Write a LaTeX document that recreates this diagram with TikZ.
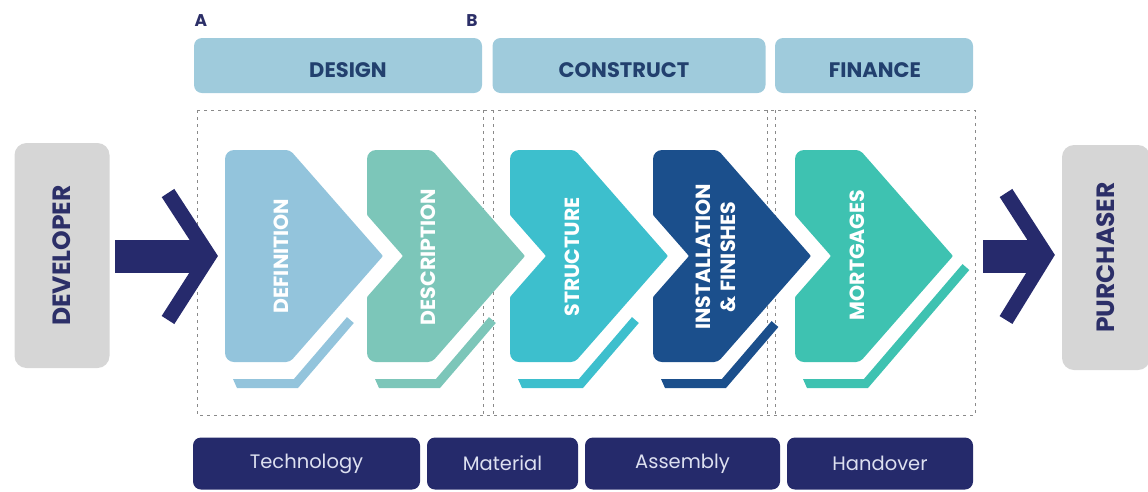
\documentclass[tikz,border=0pt]{standalone}
\usepackage{fontspec}
\setmainfont{Poppins}
\definecolor{hdrc}{HTML}{9FCBDC}
\definecolor{hdrtext}{HTML}{22406E}
\definecolor{navy}{HTML}{252A6B}
\definecolor{bottext}{HTML}{DDE0F0}
\definecolor{arrowc}{HTML}{262A6C}
\definecolor{devc}{HTML}{D6D6D6}
\definecolor{devtext}{HTML}{2C2F68}
\definecolor{cA}{HTML}{93C4DC}
\definecolor{cB}{HTML}{7CC6B9}
\definecolor{cC}{HTML}{3DBFCD}
\definecolor{cD}{HTML}{1B4F8C}
\definecolor{cE}{HTML}{3EC2B1}
\definecolor{dotc}{HTML}{8A8A8A}
% #1 = left x, #2 = colour, #3 = 1 if notched, #4 = y of band end
\newcommand\mychev[4]{%
  \fill[#2] ({#1+8},379) -- ({#1+68.9},379) -- ({#1+73+(388-#4)*0.8585-6.8},{#4-5.9})
     -- ({#1+73+(388-#4)*0.8585},{#4}) -- ({#1+73},388) -- ({#1+12},388) -- cycle;
  \ifnum#3=1
  \fill[#2, rounded corners=9pt] ({#1},200) -- ({#1},150) [rounded corners=4pt] -- ({#1+65},150)
     [rounded corners=1pt] -- ({#1+158},256) [rounded corners=4pt] -- ({#1+65},362)
     [rounded corners=9pt] -- ({#1},362) [rounded corners=1pt] -- ({#1},297) -- ({#1+36},256) -- ({#1},215) -- cycle;
  \else
  \fill[#2, rounded corners=9pt] ({#1},200) -- ({#1},150) [rounded corners=4pt] -- ({#1+65},150)
     [rounded corners=1pt] -- ({#1+158},256) [rounded corners=4pt] -- ({#1+65},362)
     [rounded corners=9pt] -- ({#1},362) -- cycle;
  \fi}
\begin{document}
\begin{tikzpicture}[x=1pt,y=-1pt,
  hdr/.style={fill=hdrc, rounded corners=8pt, minimum height=55pt, inner sep=0pt},
  hdrtxt/.style={text=hdrtext, font=\fontsize{21}{24}\selectfont\bfseries, inner sep=0pt},
  botbox/.style={fill=navy, rounded corners=8pt, minimum height=52pt, inner sep=0pt,
     text=bottext, font=\fontsize{19.5}{22}\selectfont},
  sidebox/.style={fill=devc, rounded corners=12pt, rotate=90, minimum width=225pt,
     inner sep=0pt, text=devtext, font=\fontsize{25}{28}\selectfont\bfseries},
  chevtxt/.style={rotate=90, text=white, align=center, inner sep=0pt,
     font=\fontsize{20.5}{25}\selectfont\bfseries},
  ab/.style={text=devtext, font=\fontsize{17}{20}\selectfont\bfseries, inner sep=0pt},
  dots/.style={draw=dotc, line width=1pt, dash pattern=on 3pt off 4pt},
  arr/.style={draw=arrowc, line join=miter, miter limit=10}]
\useasboundingbox (0,0) rectangle (1148,491);

% labels A, B
\node[ab] (A) at (201,21) {A};
\node[ab] (B) at (472,21) {B};

% header boxes
\node[hdr, minimum width=288pt] (design) at (338,65.5) {};
\node[hdr, minimum width=273pt] (construct) at (629,65.5) {};
\node[hdr, minimum width=198pt] (finance) at (874,65.5) {};
\node[hdrtxt] (designT) at (348,70) {DESIGN};
\node[hdrtxt] (constructT) at (624,70) {CONSTRUCT};
\node[hdrtxt] (financeT) at (875,70) {FINANCE};

% dotted frames
\draw[dots] (197,110) rectangle (975,415);
\draw[dots] (483,110) -- (483,415);
\draw[dots] (493,110) -- (493,415);
\draw[dots] (767,110) -- (767,415);
\draw[dots] (775,110) -- (775,415);

% chevrons
\mychev{225}{cA}{0}{323}
\mychev{367}{cB}{1}{323}
\mychev{510}{cC}{1}{323}
\mychev{653}{cD}{1}{327}
\mychev{795}{cE}{1}{270}
\node[chevtxt] (def) at (281,256) {DEFINITION};
\node[chevtxt] (desc) at (428,257) {DESCRIPTION};
\node[chevtxt] (struct) at (572,257) {STRUCTURE};
\node[chevtxt] (inst) at (716,257) {INSTALLATION\\\& FINISHES};
\node[chevtxt] (mort) at (857,255) {MORTGAGES};

% side boxes
\node[sidebox, minimum height=95pt] (dev) at (62,255.5) {DEVELOPER};
\node[sidebox, minimum height=88pt] (pur) at (1106,257.5) {PURCHASER};

% arrows
\coordinate (la0) at (115,256.5);
\coordinate (la1) at (200,256.5);
\coordinate (ltop) at (168,193);
\coordinate (ltip) at (209,256);
\coordinate (lbot) at (168,320);
\draw[arr, line width=33pt] (la0) -- (la1);
\draw[arr, line width=15pt] (ltop) -- (ltip) -- (lbot);
\coordinate (ra0) at (983,256.5);
\coordinate (ra1) at (1040,256.5);
\coordinate (rtop) at (1006,193);
\coordinate (rtip) at (1046,255);
\coordinate (rbot) at (1006,320);
\draw[arr, line width=33pt] (ra0) -- (ra1);
\draw[arr, line width=15pt] (rtop) -- (rtip) -- (rbot);

% bottom boxes
\node[botbox, minimum width=227pt] (tech) at (306.5,463.5) {Technology};
\node[botbox, minimum width=151pt] (mat) at (502.5,463.5) {Material};
\node[botbox, minimum width=195pt] (ass) at (682.5,463.5) {Assembly};
\node[botbox, minimum width=186pt] (hand) at (880,463.5) {Handover};
\end{tikzpicture}
\end{document}
